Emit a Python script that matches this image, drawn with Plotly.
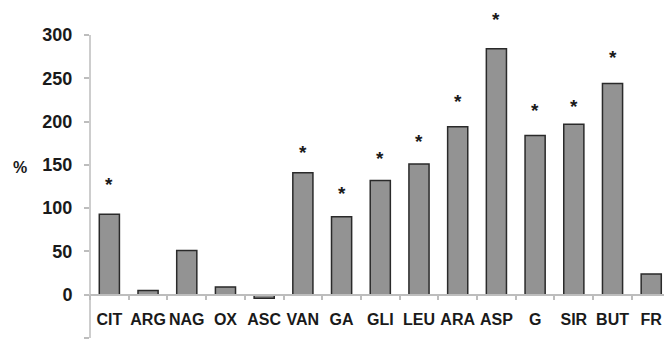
import plotly.graph_objects as go

# Relative change (%) per compound
categories = ["CIT", "ARG", "NAG", "OX", "ASC", "VAN", "GA", "GLI", "LEU",
              "ARA", "ASP", "G", "SIR", "BUT", "FR"]
values = [93, 5, 51, 9, -4, 141, 90, 132, 151, 194, 284, 184, 197, 244, 24]

# Significance markers: compound and height of the asterisk
star_categories = ["CIT", "VAN", "GA", "GLI", "LEU", "ARA", "ASP", "G", "SIR", "BUT"]
star_heights = [130, 167, 119, 160, 179, 226, 320, 215, 220, 276]

y_ticks = [-50, 0, 50, 100, 150, 200, 250, 300]

AXIS_GRAY = "#bdbdbd"
TEXT = "#1a1a1a"
FAMILY = "Liberation Sans, Arial, sans-serif"

fig = go.Figure()
fig.add_trace(go.Bar(
    x=categories, y=values, width=0.52,
    marker=dict(color="#939393", line=dict(color="#2a2a2a", width=1.5)),
    showlegend=False,
))

# Asterisks; the glyph sits high in its text box, so nudge it down a little
star_annotations = [
    dict(text="*", x=c, y=h, xref="x", yref="y", showarrow=False,
         xanchor="center", yanchor="middle", yshift=-2,
         font=dict(family=FAMILY, size=19, color=TEXT, weight="bold"))
    for c, h in zip(star_categories, star_heights)
]

# Value range; the axis line itself stops at the top tick
ymin, ymax, ytop = -50, 330, 300
fig.update_layout(
    width=664, height=345,
    margin=dict(l=90, r=0, t=9, b=7),
    paper_bgcolor="white", plot_bgcolor="white",
    font=dict(family=FAMILY, size=16, color=TEXT),
    xaxis=dict(
        range=[-0.5, 14.33],
        anchor="free", position=(0 - ymin) / (ymax - ymin),
        showline=True, linecolor=AXIS_GRAY, linewidth=1.5,
        ticks="outside", tickson="boundaries", ticklen=5, tickcolor=AXIS_GRAY, tickwidth=1.5,
        tickangle=0,
        tickfont=dict(family=FAMILY, size=16, color=TEXT, weight="bold"),
        ticklabelstandoff=10,
        showgrid=False, zeroline=False,
    ),
    yaxis=dict(
        range=[ymin, ymax], tickvals=y_ticks,
        showline=False,
        ticks="outside", ticklen=5, tickcolor=AXIS_GRAY, tickwidth=1.5,
        tickfont=dict(family=FAMILY, size=18, color=TEXT, weight="bold"),
        ticklabelstandoff=8,
        showgrid=False, zeroline=False,
    ),
    shapes=[dict(
        type="line", xref="paper", yref="y", x0=0, x1=0, y0=ymin, y1=ytop,
        line=dict(color=AXIS_GRAY, width=1.5), layer="below",
    )],
    annotations=star_annotations + [dict(
        text="%", xref="paper", yref="y", x=0, y=150, xshift=-70, yshift=-3,
        xanchor="center", yanchor="middle", showarrow=False,
        font=dict(family=FAMILY, size=16, color=TEXT, weight="bold"),
    )],
)

fig.write_html("out.html")
